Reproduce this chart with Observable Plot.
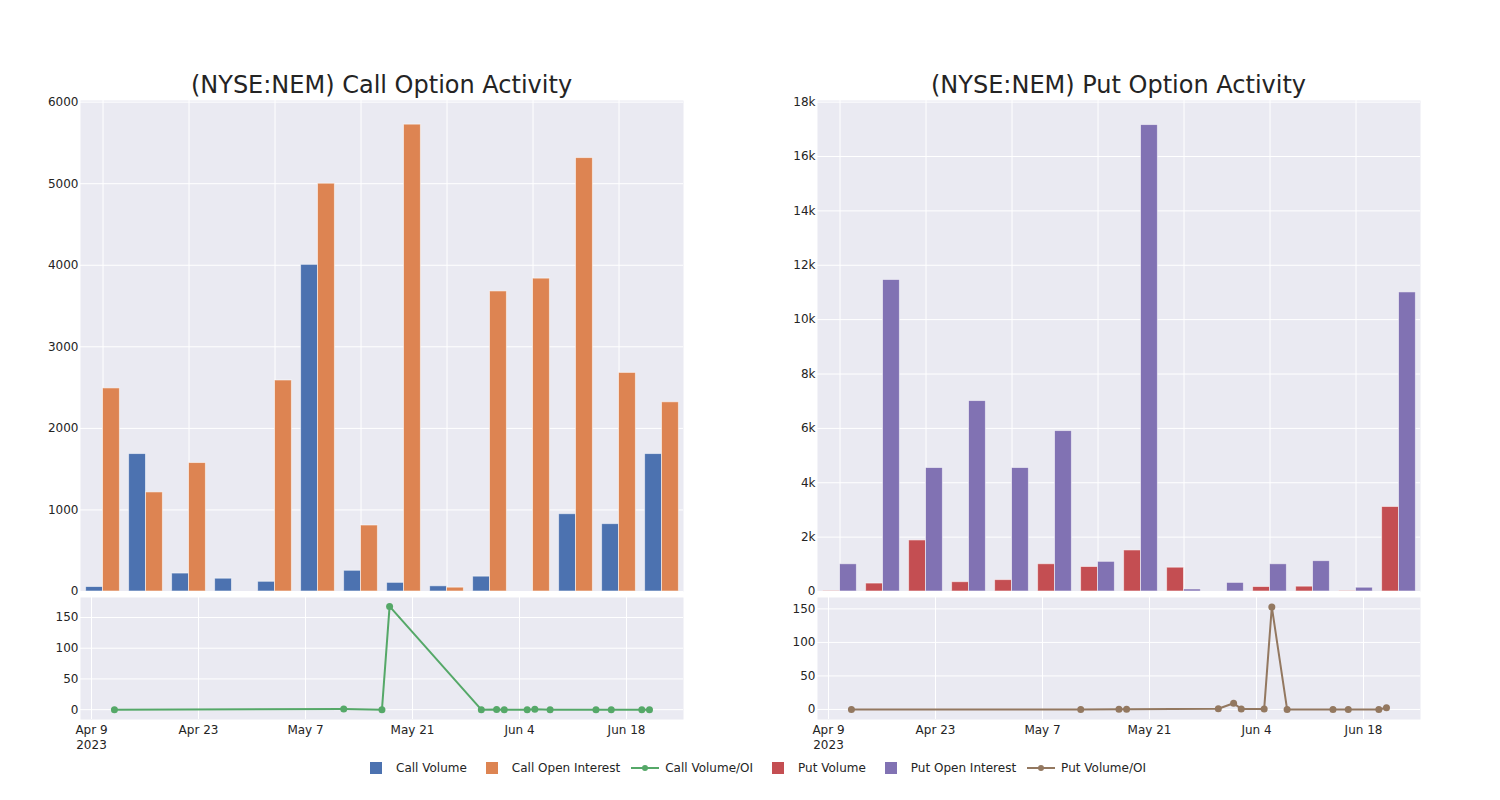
<!DOCTYPE html>
<html>
<head>
<meta charset="utf-8">
<script src="https://cdn.jsdelivr.net/npm/d3@7"></script>
<script src="https://cdn.jsdelivr.net/npm/@observablehq/plot@0.6"></script>
<style>
  body { margin: 0; background: #fff; font-family: "DejaVu Sans", sans-serif; color: #242424; }
  #root { position: relative; width: 1500px; height: 800px; overflow: hidden; }
  .title { position: absolute; top: 70px; font-size: 24px; line-height: 30px; white-space: nowrap; transform: translateX(-50%); color: #242424; }
  .panel { position: absolute; }
  #legend { position: absolute; top: 760px; left: 370px; height: 16px; display: flex; align-items: center; font-size: 12px; white-space: nowrap; }
  .li { display: flex; align-items: center; }
  .sq { width: 12px; height: 12px; margin-right: 14px; }
  .ln { margin-right: 6px; }
</style>
</head>
<body>
<div id="root">
  <div class="title" style="left:381.5px">(NYSE:NEM) Call Option Activity</div>
  <div class="title" style="left:1118.5px">(NYSE:NEM) Put Option Activity</div>
  <div class="panel" id="callBars" style="left:0px;top:90px"></div>
  <div class="panel" id="callLine" style="left:0px;top:587px"></div>
  <div class="panel" id="putBars" style="left:737px;top:90px"></div>
  <div class="panel" id="putLine" style="left:737px;top:587px"></div>
  <div id="legend"></div>
</div>
<script>
// ---- data ----
const dates = ["2023-04-12","2023-05-12","2023-05-17","2023-05-18","2023-05-30","2023-06-01","2023-06-02",
               "2023-06-05","2023-06-06","2023-06-08","2023-06-14","2023-06-16","2023-06-20","2023-06-21"];
const callVolume = [55, 1685, 220, 157, 119, 4005, 254, 106, 64, 182, 0, 948, 826, 1685];
const callOpenInterest = [2490, 1215, 1575, 0, 2587, 5000, 809, 5724, 47, 3679, 3836, 5314, 2680, 2320];
const putVolume = [12, 292, 1878, 343, 419, 1003, 901, 1510, 876, 0, 165, 178, 12, 3109];
const putOpenInterest = [1003, 11459, 4543, 7005, 4543, 5901, 1091, 17157, 76, 317, 1003, 1117, 140, 11002];
const callVolOI = [0, 1, 0, 168, 0, 0.3, 0, 0, 0.8, 0, 0, 0, 0, 0];
const putVolOI = [0, 0, 0.4, 0.4, 1, 9.3, 0.8, 0.8, 153, 0, 0, 0, 0, 2.5];

const callBarTicks = [0, 1000, 2000, 3000, 4000, 5000, 6000];
const putBarTicks = [0, 2000, 4000, 6000, 8000, 10000, 12000, 14000, 16000, 18000];
const ratioTicks = [0, 50, 100, 150];
const dateTicks = ["2023-04-09","2023-04-23","2023-05-07","2023-05-21","2023-06-04","2023-06-18"];
const dateTickLabels = ["Apr 9\n2023","Apr 23","May 7","May 21","Jun 4","Jun 18"];

const colors = {
  callVolume: "#4C72B0", callOI: "#DD8452", callRatio: "#55A868",
  putVolume: "#C44E52", putOI: "#8172B3", putRatio: "#937860"
};

// ---- chart builders ----
const BG = "#EAEAF2";
const font = {fontFamily: "DejaVu Sans, sans-serif", fontSize: "12px", color: "#242424", background: "transparent", overflow: "visible"};
const parse = d3.utcParse("%Y-%m-%d");
const xDomain = [new Date(Date.UTC(2023, 3, 7, 13, 30)), new Date(Date.UTC(2023, 5, 25, 10, 50))];

function barChart(vol, oi, cVol, cOi, yMax, ticks, fmt) {
  const rows = dates.map((d, i) => ({cat: d, vol: vol[i], oi: oi[i]}));
  const barStyle = {stroke: "white", strokeOpacity: 0.55, strokeWidth: 1};
  return Plot.plot({
    width: 700, height: 506,
    marginLeft: 80, marginRight: 17, marginTop: 10, marginBottom: 5,
    style: font,
    x: {type: "band", domain: dates, padding: 0, axis: null},
    y: {domain: [0, yMax], axis: null},
    marks: [
      Plot.frame({fill: BG, stroke: "none"}),
      Plot.gridY(ticks, {stroke: "white", strokeOpacity: 1, strokeWidth: 1}),
      Plot.gridX(dates.filter((d, i) => i % 2 === 0), {stroke: "white", strokeOpacity: 1, strokeWidth: 1}),
      Plot.barY(rows, {x: "cat", y: "vol", fill: cVol, insetLeft: 4.6, insetRight: 21.5, ...barStyle}),
      Plot.barY(rows, {x: "cat", y: "oi", fill: cOi, insetLeft: 21.5, insetRight: 4.6, ...barStyle}),
      Plot.axisY(ticks, {tickSize: 0, tickPadding: 2, tickFormat: fmt, fontSize: 12, fill: "#242424", label: null})
    ]
  });
}

function lineChart(values, color, yDomain) {
  const rows = dates.map((d, i) => ({date: parse(d), v: values[i]}));
  const tickDates = dateTicks.map(parse);
  const labelOf = new Map(tickDates.map((d, i) => [+d, dateTickLabels[i]]));
  return Plot.plot({
    width: 700, height: 172,
    marginLeft: 80, marginRight: 17, marginTop: 10, marginBottom: 40,
    style: font,
    x: {type: "utc", domain: xDomain, axis: null},
    y: {domain: yDomain, axis: null},
    marks: [
      Plot.frame({fill: BG, stroke: "none"}),
      Plot.gridY(ratioTicks, {stroke: "white", strokeOpacity: 1, strokeWidth: 1}),
      Plot.gridX(tickDates, {stroke: "white", strokeOpacity: 1, strokeWidth: 1}),
      Plot.line(rows, {x: "date", y: "v", stroke: color, strokeWidth: 2}),
      Plot.dot(rows, {x: "date", y: "v", fill: color, r: 3.5}),
      Plot.axisX(tickDates, {tickSize: 0, tickPadding: 3, tickFormat: d => labelOf.get(+d), lineHeight: 1.3, fontSize: 12, fill: "#242424", label: null}),
      Plot.axisY(ratioTicks, {tickSize: 0, tickPadding: 2, fontSize: 12, fill: "#242424", label: null})
    ]
  });
}

document.getElementById("callBars").append(
  barChart(callVolume, callOpenInterest, colors.callVolume, colors.callOI, 6020, callBarTicks, d => String(d)));
document.getElementById("putBars").append(
  barChart(putVolume, putOpenInterest, colors.putVolume, colors.putOI, 18060, putBarTicks, d => d === 0 ? "0" : (d / 1000) + "k"));
document.getElementById("callLine").append(lineChart(callVolOI, colors.callRatio, [-16, 182.5]));
document.getElementById("putLine").append(lineChart(putVolOI, colors.putRatio, [-15, 167]));

// ---- legend ----
const legendItems = [
  {label: "Call Volume", type: "sq", color: colors.callVolume, gap: 19},
  {label: "Call Open Interest", type: "sq", color: colors.callOI, gap: 11},
  {label: "Call Volume/OI", type: "ln", color: colors.callRatio, gap: 19},
  {label: "Put Volume", type: "sq", color: colors.putVolume, gap: 19},
  {label: "Put Open Interest", type: "sq", color: colors.putOI, gap: 11},
  {label: "Put Volume/OI", type: "ln", color: colors.putRatio, gap: 0}
];
const legend = document.getElementById("legend");
for (const it of legendItems) {
  const item = document.createElement("div");
  item.className = "li";
  item.style.marginRight = it.gap + "px";
  if (it.type === "sq") {
    const s = document.createElement("div");
    s.className = "sq";
    s.style.background = it.color;
    item.append(s);
  } else {
    const ns = "http://www.w3.org/2000/svg";
    const svg = document.createElementNS(ns, "svg");
    svg.setAttribute("width", 28); svg.setAttribute("height", 12);
    svg.setAttribute("class", "ln");
    const l = document.createElementNS(ns, "line");
    l.setAttribute("x1", 0); l.setAttribute("x2", 28); l.setAttribute("y1", 6); l.setAttribute("y2", 6);
    l.setAttribute("stroke", it.color); l.setAttribute("stroke-width", 2);
    const c = document.createElementNS(ns, "circle");
    c.setAttribute("cx", 14); c.setAttribute("cy", 6); c.setAttribute("r", 3); c.setAttribute("fill", it.color);
    svg.append(l, c);
    item.append(svg);
  }
  const t = document.createElement("span");
  t.textContent = it.label;
  item.append(t);
  legend.append(item);
}
</script>
</body>
</html>
